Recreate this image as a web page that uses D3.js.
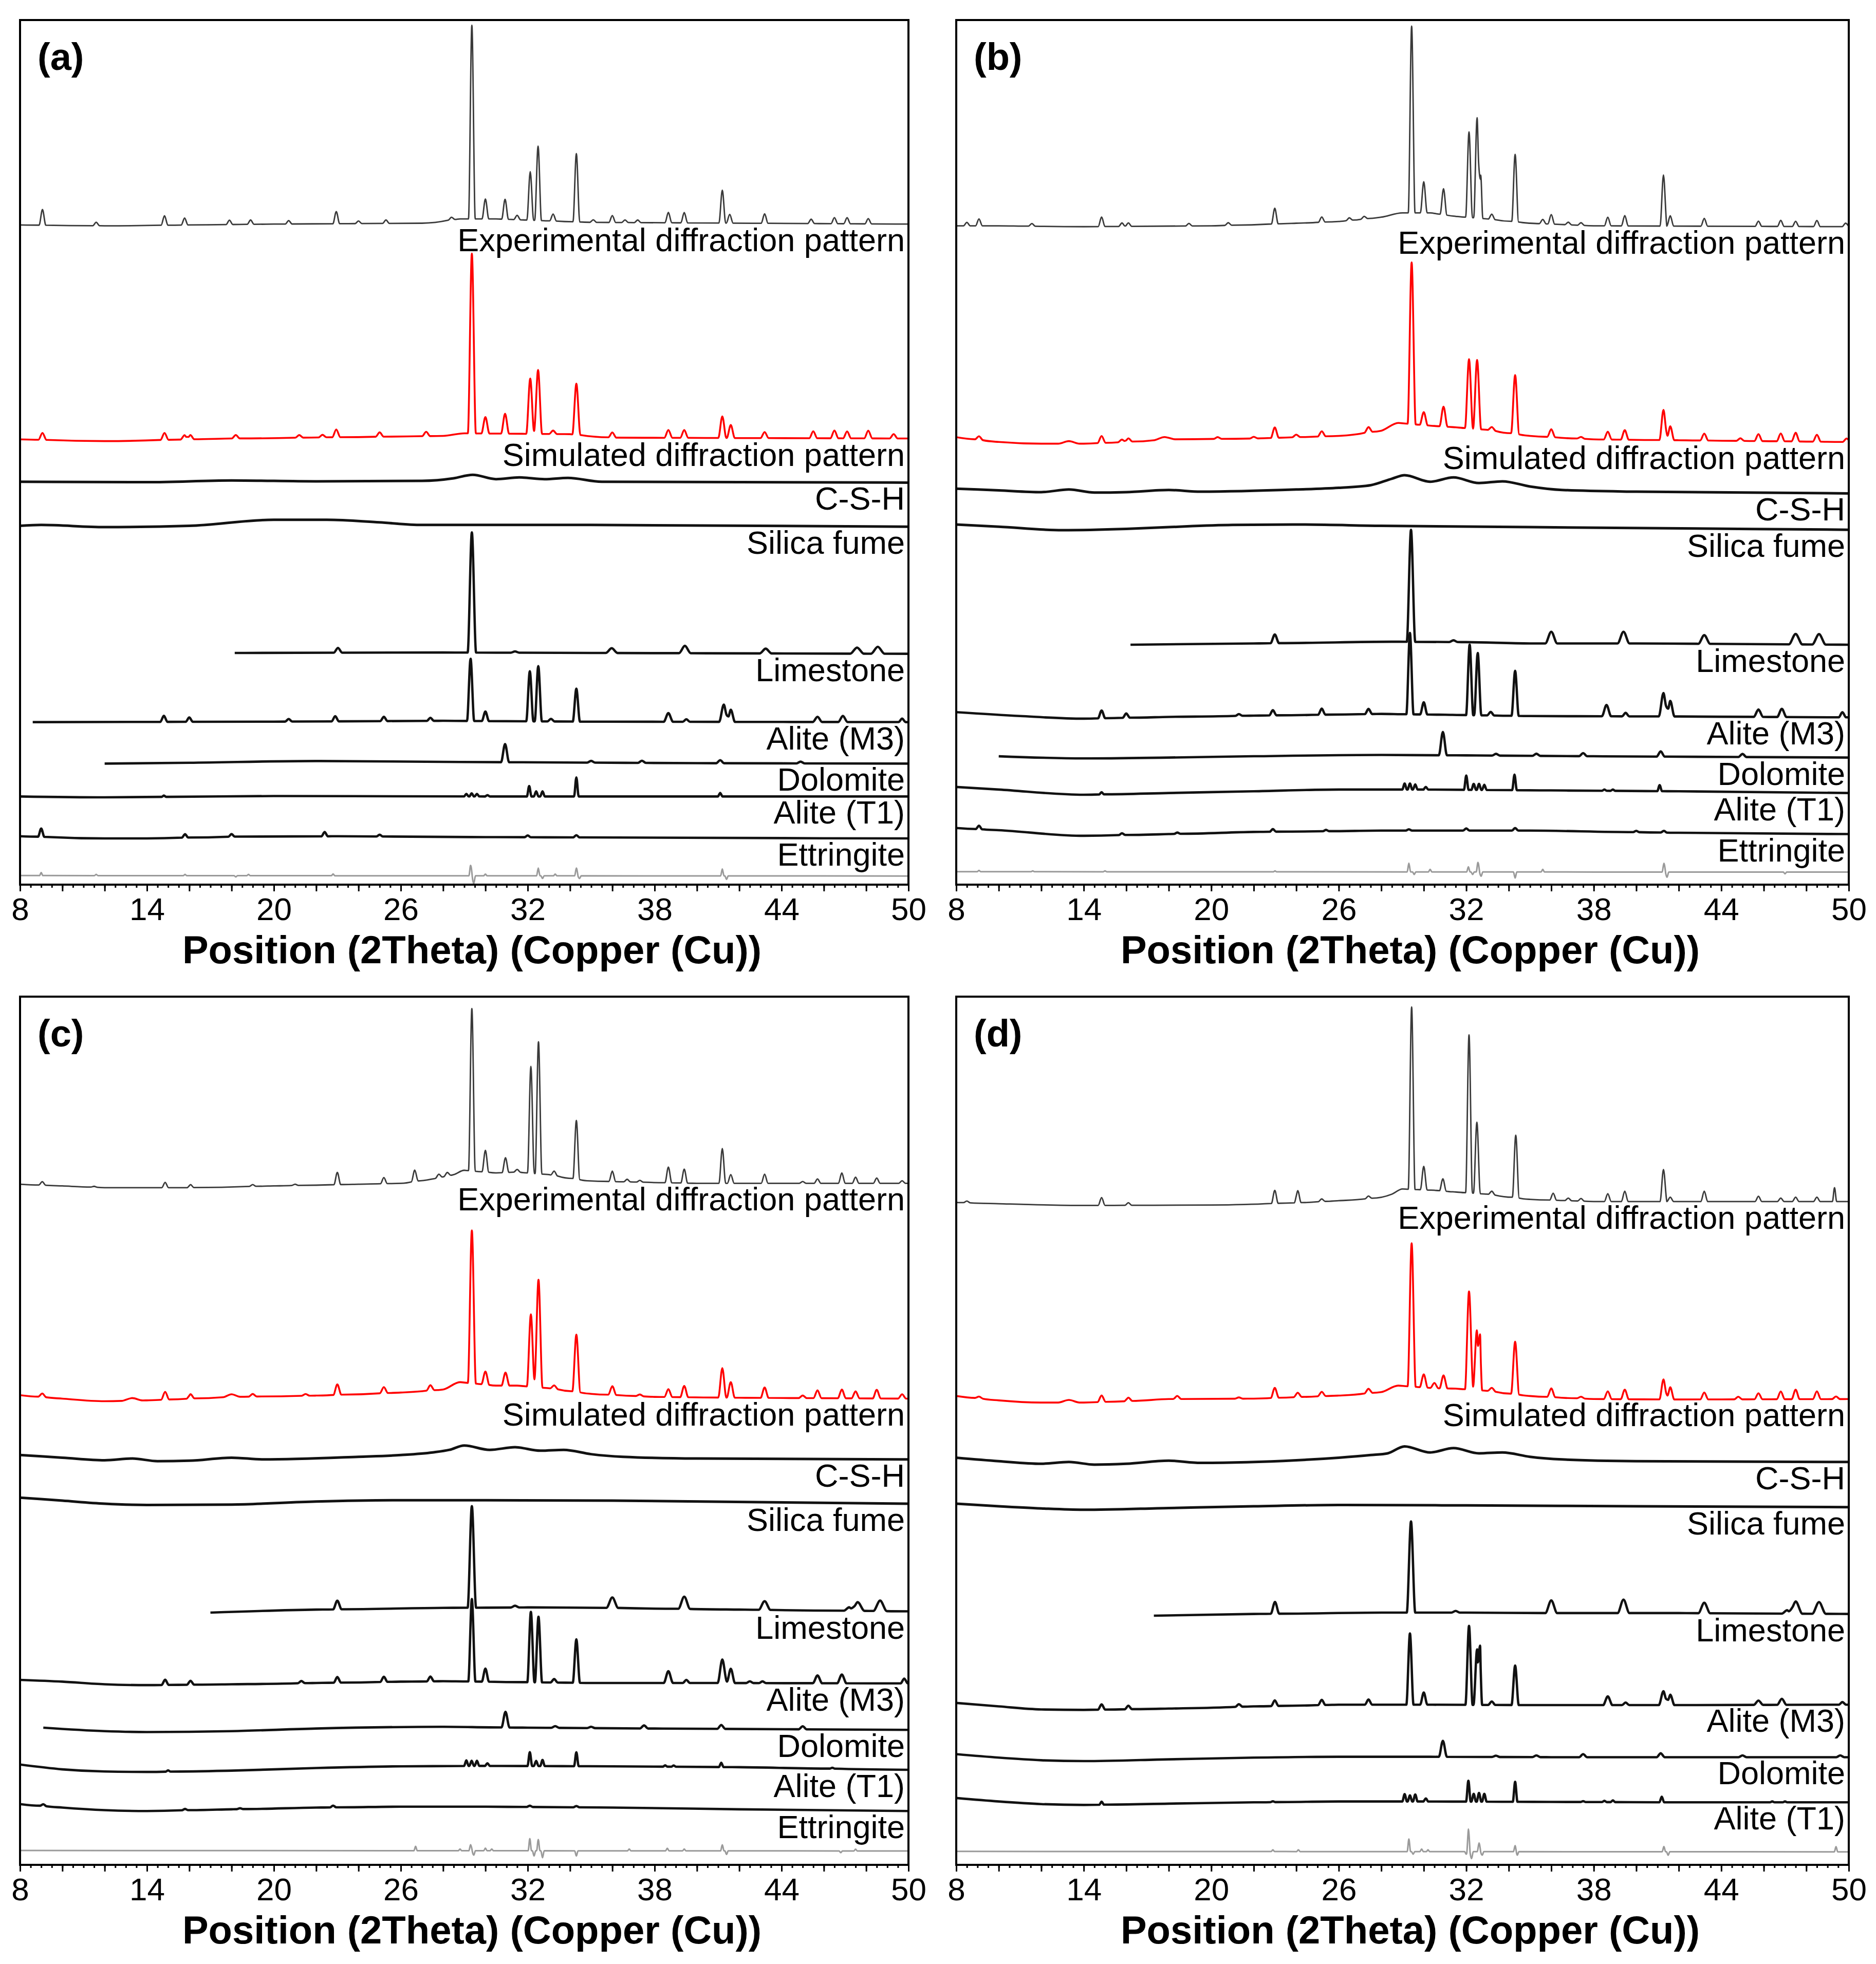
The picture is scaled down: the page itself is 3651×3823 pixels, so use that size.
<!DOCTYPE html>
<html>
<head>
<meta charset="utf-8">
<script src="https://cdn.jsdelivr.net/npm/d3@7"></script>
<style>
  body { margin: 0; background: #fff; }
  svg { display: block; }
  text { font-family: Arial, "Liberation Sans", sans-serif; fill: #000; }
</style>
</head>
<body>
<script>
// ---- data (2theta, relative intensity; 0..100 = frame height) ----
const tickLabels = [8, 14, 20, 26, 32, 38, 44, 50];
const panelLabels = ["(a)", "(b)", "(c)", "(d)"];
const traceNames = ["Experimental diffraction pattern", "Simulated diffraction pattern", "C-S-H",
  "Silica fume", "Limestone", "Alite (M3)", "Dolomite", "Alite (T1)", "Ettringite", ""];

// panel (a)
const aExpBase = [[8,76.3],[12,76.2],[20,76.4],[27,76.5],[28.8,77.0],[30.5,77.0],[35,76.6],[50,76.4]];
const aExpPeaks = [[9.06,1.8],[11.6,0.4],[14.83,1.1],[15.78,0.8],[17.9,0.5],[18.9,0.5],[20.7,0.4],[22.95,1.4],[24.0,0.3],[25.3,0.4],[28.4,0.3],[29.36,22.4],[30.0,2.3],[30.93,2.3],[31.5,0.5],[32.12,5.6],[32.49,8.6],[33.2,0.8],[34.3,7.9],[35.1,0.3],[36.0,0.8],[36.6,0.3],[37.2,0.3],[38.65,1.2],[39.4,1.2],[41.2,3.8],[41.55,1.0],[43.2,1.1],[45.4,0.5],[46.5,0.7],[47.1,0.7],[48.1,0.6]];
const aSimBase = [[8,51.5],[12,51.3],[18,51.6],[28,51.9],[29,52.2],[34,52.1],[36,51.7],[50,51.6]];
const aSimPeaks = [[9.06,0.8],[14.83,0.8],[15.78,0.5],[16.05,0.5],[18.2,0.4],[21.2,0.3],[22.3,0.3],[22.95,0.9],[25.0,0.5],[27.2,0.5],[29.36,20.8],[30.0,1.9],[30.93,2.3],[32.12,6.4],[32.49,7.4],[33.2,0.4],[34.3,5.9],[36.0,0.6],[38.65,0.9],[39.4,0.9],[41.2,2.5],[41.6,1.5],[43.2,0.7],[45.5,0.8],[46.5,0.9],[47.1,0.8],[48.1,0.9],[49.3,0.5]];
const aCshBase = [[8,46.6],[14,46.55],[18,46.75],[22,46.65],[27,46.7],[28.5,47.0],[29.4,47.4],[30.5,46.9],[31.6,47.1],[32.8,46.9],[33.9,47.05],[35.5,46.6],[50,46.5]];
const aSilicaBase = [[8,41.5],[9,41.6],[12,41.35],[16,41.5],[20,42.2],[22.5,42.2],[25,41.9],[27,41.6],[35,41.6],[50,41.4]];
const aLimeBase = [[18.15,26.8],[28,26.85],[35,26.8],[50,26.7]];
const aLimePeaks = [[23.03,0.55],[29.36,13.9],[31.4,0.15],[35.97,0.55,0.28],[39.43,0.85,0.28],[43.25,0.55,0.28],[47.57,0.7,0.32],[48.55,0.8,0.32]];
const aM3Base = [[8.6,18.8],[20,18.85],[28,18.95],[35,18.85],[50,18.8]];
const aM3Peaks = [[14.8,0.7],[16.0,0.5],[20.7,0.3],[22.9,0.6],[25.2,0.5],[27.4,0.35],[29.3,7.2],[30.0,1.1],[32.1,5.8],[32.5,6.4],[33.1,0.3],[34.3,3.8],[38.65,1.0,0.22],[39.5,0.3],[41.27,2.0,0.22],[41.6,1.4,0.2],[45.7,0.6,0.22],[46.9,0.7,0.22],[49.7,0.4]];
const aDoloBase = [[12,14.0],[16,14.1],[22,14.3],[28,14.2],[40,14.05],[50,14.0]];
const aDoloPeaks = [[30.93,2.1],[35.0,0.2],[37.4,0.25],[41.1,0.35],[44.9,0.2]];
const aT1Base = [[8,10.2],[12,10.1],[20,10.25],[30,10.2],[50,10.2]];
const aT1Peaks = [[14.8,0.15],[29.1,0.3],[29.35,0.35],[29.6,0.3],[30.1,0.15],[32.07,1.2],[32.4,0.6],[32.7,0.6],[34.3,2.2],[41.1,0.4]];
const aEttrBase = [[8,5.6],[12,5.35],[14,5.35],[18,5.55],[23,5.6],[30,5.5],[50,5.35]];
const aEttrPeaks = [[9.0,0.95],[15.8,0.4],[18.0,0.3],[22.4,0.5],[25.0,0.2],[32.0,0.2],[34.3,0.25]];
const aResBase = [[8,1.05],[50,1.0]];
const aResPeaks = [[9.0,0.35],[11.6,0.15],[15.8,0.15],[18.2,-0.15],[18.8,0.15],[22.8,0.2],[29.3,1.2],[29.45,-0.9],[30.0,0.2],[32.5,0.9],[32.7,-0.3],[33.3,0.2],[34.3,0.9],[34.45,-0.3],[41.2,0.8],[41.4,-0.4]];

// panel (b)
const bExpBase = [[8,76.2],[10,76.2],[14,76.1],[20,76.2],[24,76.5],[26,76.7],[28,77.2],[29,77.7],[30.3,77.7],[31.5,77.3],[33,77.0],[35,76.5],[38,76.2],[50,76.1]];
const bExpPeaks = [[8.5,0.4],[9.07,0.8],[11.56,0.3],[14.84,1.1],[15.8,0.4],[16.1,0.4],[18.95,0.3],[20.8,0.3],[22.99,1.8],[25.2,0.6],[26.5,0.3],[27.2,0.3],[29.43,21.6],[30.0,3.6],[30.93,3.0],[32.13,9.9],[32.51,11.6],[32.68,5.0,0.1],[33.2,0.6],[34.3,7.8],[35.6,0.5],[36.0,1.1],[36.8,0.3],[37.4,0.3],[38.66,1.0],[39.46,1.2],[41.28,5.9],[41.6,1.2],[43.2,0.9],[45.75,0.6],[46.8,0.7],[47.5,0.6],[48.5,0.7],[49.85,0.4]];
const bSimBase = [[8,51.75],[10,51.2],[12,51.0],[14,51.0],[16,51.2],[18,51.5],[22,51.6],[26,51.9],[28,52.5],[28.8,53.4],[30.5,53.05],[31.5,52.9],[33,52.6],[35,51.9],[38,51.5],[42,51.4],[50,51.2]];
const bSimPeaks = [[9.07,0.4],[13.3,0.3,0.5],[14.84,0.8],[15.8,0.3],[16.1,0.4],[17.8,0.3,0.5],[20.3,0.2],[22.0,0.2],[22.99,1.2],[24.0,0.3],[25.2,0.6],[27.4,0.6],[29.43,18.7],[30.0,1.5],[30.93,2.3],[32.13,8.0],[32.51,8.0],[33.2,0.4],[34.3,6.8],[36.0,0.9],[37.4,0.2],[38.66,0.9],[39.46,1.1],[41.28,3.5],[41.6,1.6],[43.2,0.8],[44.9,0.3],[45.75,0.8],[46.8,0.9],[47.5,1.0],[48.5,0.8],[49.9,0.4]];
const bCshBase = [[8,45.8],[10,45.6],[12,45.4],[13.3,45.7],[14.5,45.35],[16,45.4],[18,45.65],[19.5,45.45],[24,45.7],[26,45.9],[27.5,46.2],[28.5,46.95],[29.1,47.35],[30.3,46.6],[31.4,47.1],[32.6,46.45],[33.7,46.65],[35,46.05],[36.5,45.65],[40,45.45],[50,45.25]];
const bSilicaBase = [[8,41.65],[10,41.4],[13,41.0],[16,41.15],[18,41.35],[21,41.6],[24,41.65],[28,41.5],[35,41.35],[50,41.05]];
const bLimeBase = [[16.2,27.75],[22,27.9],[28.5,28.1],[32,28.05],[35,27.9],[40,27.9],[50,27.75]];
const bLimePeaks = [[22.99,1.0],[29.4,12.95],[31.4,0.2],[36.0,1.35,0.28],[39.4,1.35,0.28],[43.2,1.0,0.28],[47.5,1.2,0.32],[48.6,1.2,0.32]];
const bM3Base = [[8,19.95],[11,19.5],[14,19.2],[18,19.4],[22,19.55],[28,19.75],[31,19.65],[35,19.5],[42,19.45],[50,19.35]];
const bM3Peaks = [[14.84,0.9],[16.0,0.5],[21.3,0.2],[22.9,0.6],[25.2,0.7],[27.4,0.6],[29.35,9.4],[30.0,1.4],[32.16,8.15],[32.54,7.2],[33.15,0.4],[34.3,5.2],[38.6,1.3,0.22],[39.5,0.4],[41.28,2.7,0.22],[41.6,1.8,0.2],[45.75,0.85,0.22],[46.85,0.95,0.22],[49.7,0.6]];
const bDoloBase = [[10,14.85],[14,14.6],[18,14.7],[22,14.85],[28,15.0],[32,14.95],[38,14.85],[50,14.7]];
const bDoloPeaks = [[30.9,2.7],[33.4,0.2],[35.3,0.25],[37.5,0.35],[41.15,0.6],[45.0,0.35]];
const bT1Base = [[8,11.3],[10,11.0],[14,10.4],[18,10.6],[22,10.8],[26,11.0],[30,11.0],[36,10.9],[42,10.8],[50,10.6]];
const bT1Peaks = [[14.84,0.25],[29.1,0.7],[29.35,0.7],[29.6,0.6],[30.1,0.3],[32.0,1.65],[32.35,0.7],[32.6,0.7],[32.85,0.6],[34.27,1.8],[38.5,0.15],[38.9,0.15],[41.1,0.7]];
const bEttrBase = [[8,6.55],[10,6.3],[14,5.65],[18,5.85],[22,6.1],[28,6.25],[35,6.25],[42,6.0],[50,5.85]];
const bEttrPeaks = [[9.07,0.4],[15.8,0.2],[18.4,0.15],[22.9,0.3],[25.4,0.15],[29.3,0.15],[32.0,0.25],[34.3,0.3],[40.0,0.15],[41.3,0.2]];
const bResBase = [[8,1.5],[50,1.45]];
const bResPeaks = [[9.07,0.15],[11.6,0.1],[15,0.1],[23,0.1],[29.3,1.0],[29.55,-0.3],[30.3,0.3],[32.1,0.6],[32.3,-0.3],[32.55,1.1],[32.7,-0.5],[34.3,-0.7],[35.6,0.3],[41.3,1.0],[41.45,-0.6],[47,-0.2]];

// panel (c)
const cExpBase = [[8,78.4],[10,78.2],[12,78.0],[16,78.0],[20,78.2],[24,78.4],[26,78.5],[27.5,79.0],[28.5,79.5],[29.0,80.0],[30.5,79.7],[31.5,79.8],[33,79.5],[34.8,78.8],[36,78.7],[40,78.5],[50,78.5]];
const cExpPeaks = [[9.05,0.4],[11.5,0.1],[14.86,0.6],[16.06,0.35],[19.0,0.2],[21,0.15],[23.0,1.4],[25.2,0.7],[26.66,1.3],[27.8,0.4],[28.2,0.4],[29.36,18.7],[30.0,2.5],[30.95,1.7],[31.5,0.3],[32.15,12.3],[32.51,15.2],[33.25,0.5],[34.3,6.75],[36.0,1.2],[36.7,0.3],[37.3,0.2],[38.65,1.8],[39.4,1.6],[41.2,4.0],[41.6,1.0],[43.2,1.05],[45.0,0.2],[45.7,0.5],[46.85,1.2],[47.5,0.7],[48.5,0.6],[49.7,0.3]];
const cSimBase = [[8,54.1],[10,53.7],[12,53.4],[14,53.5],[16,53.7],[18,53.9],[22,54.05],[26,54.4],[28,54.75],[28.8,55.6],[30.5,55.2],[31.5,55.2],[33,54.9],[35,54.25],[38,53.9],[42,53.8],[50,53.7]];
const cSimPeaks = [[9.05,0.4],[13.3,0.3,0.5],[14.86,0.9],[16.06,0.5],[18,0.3,0.4],[19,0.3],[21.5,0.2],[23.0,1.2],[25.2,0.7],[27.4,0.6],[29.36,17.6],[30.0,1.5],[30.95,1.5],[32.15,8.35],[32.51,12.4],[33.25,0.4],[34.3,6.6],[36.0,1.0],[37.3,0.2],[38.65,0.9],[39.4,1.3],[41.2,3.4],[41.6,1.8],[43.2,1.2],[45.0,0.3],[45.7,0.9],[46.85,1.0],[47.5,0.8],[48.5,1.0],[49.7,0.5]];
const cCshBase = [[8,47.2],[10,46.9],[12,46.6],[13.3,46.8],[14.5,46.5],[16,46.55],[18,46.9],[19.5,46.7],[24,47.0],[26,47.2],[27.5,47.5],[28.3,47.8],[29.0,48.3],[30.2,47.8],[31.4,48.1],[32.6,47.7],[33.7,47.8],[35,47.3],[36.5,47.0],[40,46.8],[50,46.7]];
const cSilicaBase = [[8,42.3],[10,41.95],[12,41.6],[14,41.45],[18,41.5],[22,41.85],[26,42.0],[30,42.0],[36,41.95],[50,41.6]];
const cLimeBase = [[17.0,29.05],[22,29.4],[28,29.6],[32,29.65],[36,29.6],[42,29.4],[50,29.2]];
const cLimePeaks = [[23.0,1.0],[29.36,11.7],[31.4,0.2],[36.0,1.2,0.28],[39.4,1.4,0.28],[43.2,1.0,0.28],[47.2,0.4,0.25],[47.6,1.0,0.32],[48.66,1.2,0.32]];
const cM3Base = [[8,21.3],[10,21.1],[12,20.8],[14,20.7],[18,20.8],[22,20.95],[26,21.1],[28,21.15],[30,21.1],[35,20.95],[40,20.95],[50,20.9]];
const cM3Peaks = [[14.86,0.6],[16.06,0.45],[21.3,0.25],[23.0,0.65],[25.2,0.6],[27.4,0.55],[29.36,9.5],[30.0,1.5],[32.15,8.1],[32.51,7.55],[33.25,0.4],[34.3,5.0],[38.65,1.35,0.22],[39.5,0.35],[41.2,2.7,0.22],[41.6,1.65,0.2],[42.5,0.2],[43.1,0.2],[45.7,0.9,0.22],[46.85,1.0,0.22],[49.8,0.55]];
const cDoloBase = [[9.1,15.8],[12,15.4],[14,15.3],[18,15.4],[22,15.7],[28,15.9],[32,15.8],[38,15.7],[50,15.55]];
const cDoloPeaks = [[30.95,1.8],[33.3,0.2],[35.0,0.15],[37.5,0.35],[41.15,0.45],[45.0,0.35]];
const cT1Base = [[8,11.55],[10,11.0],[12,10.75],[14,10.7],[18,10.85],[22,11.15],[26,11.35],[30,11.4],[36,11.35],[42,11.25],[50,10.95]];
const cT1Peaks = [[15.0,0.15],[29.1,0.65],[29.35,0.6],[29.6,0.6],[30.1,0.3],[32.1,1.6],[32.4,0.6],[32.7,0.7],[34.3,1.6],[38.5,0.15],[38.9,0.15],[41.15,0.5],[46.4,0.1]];
const cEttrBase = [[8,7.0],[10,6.6],[12,6.3],[14,6.2],[18,6.4],[22,6.6],[26,6.7],[30,6.7],[36,6.6],[42,6.4],[50,6.2]];
const cEttrPeaks = [[9.1,0.2],[15.8,0.15],[18.4,0.1],[22.8,0.2],[32.1,0.15],[34.3,0.15]];
const cResBase = [[8,1.65],[50,1.6]];
const cResPeaks = [[26.7,0.5],[28.8,0.2],[29.3,0.7],[29.45,-0.5],[30,0.3],[30.3,0.2],[32.1,1.4],[32.3,-0.6],[32.5,1.3],[32.7,-0.8],[34.3,-0.6],[36.8,0.2],[38.6,0.3],[39.4,0.2],[41.2,0.7],[41.4,-0.4],[46.8,-0.2],[47.5,0.2]];

// panel (d)
const dExpBase = [[8,76.3],[10,76.15],[14,75.95],[20,76.0],[24,76.25],[26,76.5],[27.5,76.75],[28.5,77.25],[29.0,77.85],[30.5,77.7],[31.5,77.5],[33,77.25],[35,76.65],[38,76.4],[50,76.4]];
const dExpPeaks = [[8.5,0.2],[14.84,0.9],[16.1,0.3],[22.99,1.5],[24.07,1.4],[25.2,0.3],[27.4,0.3],[29.43,21.0],[30.0,2.7],[30.9,1.4],[32.13,18.2],[32.5,8.2],[33.2,0.4],[34.33,7.2],[36.09,0.8],[36.8,0.3],[37.4,0.3],[38.66,0.9],[39.46,1.2],[41.28,3.7],[41.6,0.5],[43.2,1.2],[45.75,0.6],[46.8,0.4],[47.5,0.5],[48.5,0.5],[49.33,1.6,0.1]];
const dSimBase = [[8,54.0],[10,53.5],[12,53.25],[14,53.25],[16,53.4],[18,53.65],[22,53.7],[26,54.05],[28,54.45],[28.8,55.2],[30.5,54.9],[31.5,54.85],[33,54.6],[35,54.0],[38,53.65],[42,53.6],[50,53.65]];
const dSimPeaks = [[9.07,0.2],[13.3,0.3,0.5],[14.84,0.75],[16.1,0.4],[18.4,0.35],[21.3,0.15],[22.99,1.15],[24.07,0.5],[25.2,0.5],[27.4,0.5],[29.43,16.5],[30.0,1.5],[30.5,0.6],[30.93,1.5],[32.13,11.3],[32.5,6.9],[32.65,5.0,0.1],[33.2,0.4],[34.3,6.05],[36.0,1.0],[37.4,0.2],[38.66,0.9],[39.46,1.1],[41.28,2.3],[41.6,1.4],[43.2,0.8],[44.8,0.3],[45.75,0.7],[46.8,0.9],[47.5,1.1],[48.5,0.9],[49.4,0.3]];
const dCshBase = [[8,46.9],[10,46.5],[12,46.2],[13.3,46.4],[14.5,46.1],[16,46.2],[18,46.55],[19.5,46.3],[24,46.6],[26,46.9],[27.5,47.2],[28.3,47.4],[29.1,48.2],[30.3,47.5],[31.4,48.0],[32.6,47.4],[33.7,47.5],[35,47.0],[36.5,46.7],[40,46.5],[50,46.4]];
const dSilicaBase = [[8,41.6],[10,41.3],[12,41.05],[14,40.9],[18,41.1],[22,41.3],[26,41.45],[32,41.4],[40,41.3],[50,41.2]];
const dLimeBase = [[17.3,28.7],[22,28.9],[28,29.05],[32,29.05],[36,29.0],[42,29.0],[50,28.9]];
const dLimePeaks = [[23.0,1.35],[29.4,10.5],[31.5,0.2],[36.0,1.45,0.28],[39.4,1.55,0.28],[43.2,1.2,0.28],[47.1,0.4,0.25],[47.5,1.4,0.32],[48.6,1.35,0.32]];
const dM3Base = [[8,18.65],[10,18.25],[12,17.9],[14,17.85],[18,18.0],[22,18.25],[26,18.45],[30,18.45],[35,18.4],[42,18.4],[50,18.45]];
const dM3Peaks = [[14.84,0.6],[16.1,0.4],[21.3,0.3],[22.99,0.65],[25.2,0.6],[27.4,0.6],[29.35,8.2],[30.0,1.4],[32.13,9.1],[32.51,6.4],[32.65,5.7,0.1],[33.2,0.4],[34.3,4.55],[38.66,1.0,0.22],[39.5,0.3],[41.28,1.6,0.22],[41.6,1.2,0.2],[45.75,0.5,0.22],[46.85,0.7,0.22],[49.7,0.3]];
const dDoloBase = [[8,12.75],[10,12.35],[12,12.05],[14,11.95],[18,12.15],[22,12.35],[26,12.45],[30,12.45],[36,12.4],[50,12.4]];
const dDoloPeaks = [[30.9,1.85],[33.4,0.15],[35.3,0.2],[37.5,0.35],[41.15,0.45],[45.0,0.2],[49.6,0.2]];
const dT1Base = [[8,7.7],[10,7.3],[12,7.0],[14,6.9],[18,7.05],[22,7.2],[26,7.3],[30,7.3],[36,7.25],[42,7.2],[50,7.2]];
const dT1Peaks = [[14.84,0.35],[22.9,0.1],[29.1,0.85],[29.35,0.7],[29.6,0.8],[30.1,0.35],[32.1,2.4],[32.35,0.9],[32.6,1.0],[32.85,0.9],[34.3,2.3],[37.5,0.1],[38.5,0.15],[38.9,0.2],[41.2,0.65],[46.4,0.1],[47,0.1]];
const dResBase = [[8,1.55],[50,1.5]];
const dResPeaks = [[22.9,0.2],[24.1,0.2],[29.3,1.45],[29.5,-0.3],[29.9,0.3],[30.2,0.2],[32.0,-0.3],[32.1,2.6],[32.25,-0.8],[32.6,1.0],[32.75,-0.4],[34.3,0.7],[34.4,-0.4],[41.3,0.6],[41.5,-0.4],[49.4,0.6]];

// ---- layout & styles ----
const W = 3651, H = 3823;
const frames = [
  { x0: 39, x1: 1768, y0: 39, y1: 1722 },
  { x0: 1861, x1: 3598, y0: 39, y1: 1722 },
  { x0: 39, x1: 1768, y0: 1940, y1: 3630 },
  { x0: 1861, x1: 3598, y0: 1940, y1: 3630 }
];
// per trace: colour, stroke width, default peak half-width (deg)
const traceStyles = [
  { color: "#3a3a3a", sw: 2.8, w: 0.16 },
  { color: "#ff0000", sw: 3.6, w: 0.19 },
  { color: "#111", sw: 5, w: 0.3 },
  { color: "#111", sw: 5, w: 0.3 },
  { color: "#111", sw: 4.6, w: 0.2 },
  { color: "#111", sw: 4.6, w: 0.17 },
  { color: "#111", sw: 4.6, w: 0.19 },
  { color: "#111", sw: 4.6, w: 0.11 },
  { color: "#111", sw: 4.6, w: 0.15 },
  { color: "#9a9a9a", sw: 3, w: 0.08 }
];

const panels = [
  [[aExpBase, aExpPeaks], [aSimBase, aSimPeaks], [aCshBase, []], [aSilicaBase, []], [aLimeBase, aLimePeaks],
   [aM3Base, aM3Peaks], [aDoloBase, aDoloPeaks], [aT1Base, aT1Peaks], [aEttrBase, aEttrPeaks], [aResBase, aResPeaks]],
  [[bExpBase, bExpPeaks], [bSimBase, bSimPeaks], [bCshBase, []], [bSilicaBase, []], [bLimeBase, bLimePeaks],
   [bM3Base, bM3Peaks], [bDoloBase, bDoloPeaks], [bT1Base, bT1Peaks], [bEttrBase, bEttrPeaks], [bResBase, bResPeaks]],
  [[cExpBase, cExpPeaks], [cSimBase, cSimPeaks], [cCshBase, []], [cSilicaBase, []], [cLimeBase, cLimePeaks],
   [cM3Base, cM3Peaks], [cDoloBase, cDoloPeaks], [cT1Base, cT1Peaks], [cEttrBase, cEttrPeaks], [cResBase, cResPeaks]],
  [[dExpBase, dExpPeaks], [dSimBase, dSimPeaks], [dCshBase, []], [dSilicaBase, []], [dLimeBase, dLimePeaks],
   [dM3Base, dM3Peaks], [dDoloBase, dDoloPeaks], [dT1Base, dT1Peaks], null, [dResBase, dResPeaks]]
];

// baseline knots plus each peak (apex and its two feet) as vertices
function vertices(base, peaks, w0) {
  const bx = base.map(d => d[0]);
  const lo = bx[0], hi = bx[bx.length - 1];
  const level = x => {
    const i = Math.min(Math.max(d3.bisectRight(bx, x) - 1, 0), bx.length - 2);
    const t = (x - bx[i]) / (bx[i + 1] - bx[i]);
    return base[i][1] + t * (base[i + 1][1] - base[i][1]);
  };
  const list = peaks.filter(p => p[0] > lo && p[0] < hi).map(([p, h, w = w0]) => ({ p, h, w }));
  const xs = new Set(bx);
  list.forEach(k => {
    xs.add(Math.max(lo, k.p - k.w));
    xs.add(k.p);
    xs.add(Math.min(hi, k.p + k.w));
  });
  return Array.from(xs).sort((a, b) => a - b)
    .map(x => [x, level(x) + d3.sum(list, k => Math.max(0, 1 - Math.abs(x - k.p) / k.w) * k.h)]);
}

const svg = d3.select("body").append("svg")
  .attr("width", W)
  .attr("height", H)
  .style("background", "#fff");

panels.forEach((traces, pi) => {
  const f = frames[pi];
  const x = d3.scaleLinear().domain([8, 50]).range([f.x0, f.x1]);
  const y = d3.scaleLinear().domain([0, 100]).range([f.y1, f.y0]);
  const g = svg.append("g");

  const clipId = "clip" + pi;
  g.append("clipPath").attr("id", clipId)
    .append("rect")
    .attr("x", f.x0).attr("y", f.y0)
    .attr("width", f.x1 - f.x0).attr("height", f.y1 - f.y0);

  const line = d3.line()
    .x(d => x(d[0]))
    .y(d => y(d[1]))
    .curve(d3.curveMonotoneX);

  const plot = g.append("g").attr("clip-path", `url(#${clipId})`);
  traces.forEach((t, ti) => {
    if (!t) return;
    const st = traceStyles[ti];
    plot.append("path")
      .attr("d", line(vertices(t[0], t[1], st.w)))
      .attr("fill", "none")
      .attr("stroke", st.color)
      .attr("stroke-width", st.sw)
      .attr("stroke-linejoin", "round");
  });

  // trace names, right aligned just below the end of each trace
  traces.forEach((t, ti) => {
    if (!t || !traceNames[ti]) return;
    const last = t[0][t[0].length - 1];
    g.append("text")
      .attr("x", f.x1 - 7)
      .attr("y", y(last[1]) + 53)
      .attr("text-anchor", "end")
      .attr("font-size", 63)
      .text(traceNames[ti]);
  });

  // axis ticks
  const ax = g.append("g").attr("transform", `translate(0,${f.y1})`);
  ax.append("g")
    .call(d3.axisBottom(x).tickValues(d3.range(8, 50.01, 0.5)).tickSize(6).tickFormat(""))
    .call(s => s.select(".domain").remove());
  ax.append("g")
    .call(d3.axisBottom(x).tickValues(d3.range(8, 50.01, 2)).tickSize(13).tickPadding(12)
      .tickFormat(d => tickLabels.includes(d) ? d : ""))
    .call(s => s.select(".domain").remove());
  ax.selectAll(".tick line").attr("stroke", "#000").attr("stroke-width", 3);
  ax.selectAll(".tick text")
    .attr("font-size", 62)
    .attr("font-family", "Arial, 'Liberation Sans', sans-serif")
    .attr("fill", "#000");

  // frame
  g.append("rect")
    .attr("x", f.x0).attr("y", f.y0)
    .attr("width", f.x1 - f.x0).attr("height", f.y1 - f.y0)
    .attr("fill", "none")
    .attr("stroke", "#000")
    .attr("stroke-width", 4);

  g.append("text")
    .attr("x", f.x0 + 34)
    .attr("y", f.y0 + 97)
    .attr("font-size", 74)
    .attr("font-weight", "bold")
    .text(panelLabels[pi]);

  g.append("text")
    .attr("x", (f.x0 + f.x1) / 2 + 15)
    .attr("y", f.y1 + 153)
    .attr("text-anchor", "middle")
    .attr("font-size", 76)
    .attr("font-weight", "bold")
    .text("Position (2Theta) (Copper (Cu))");
});
</script>
</body>
</html>
